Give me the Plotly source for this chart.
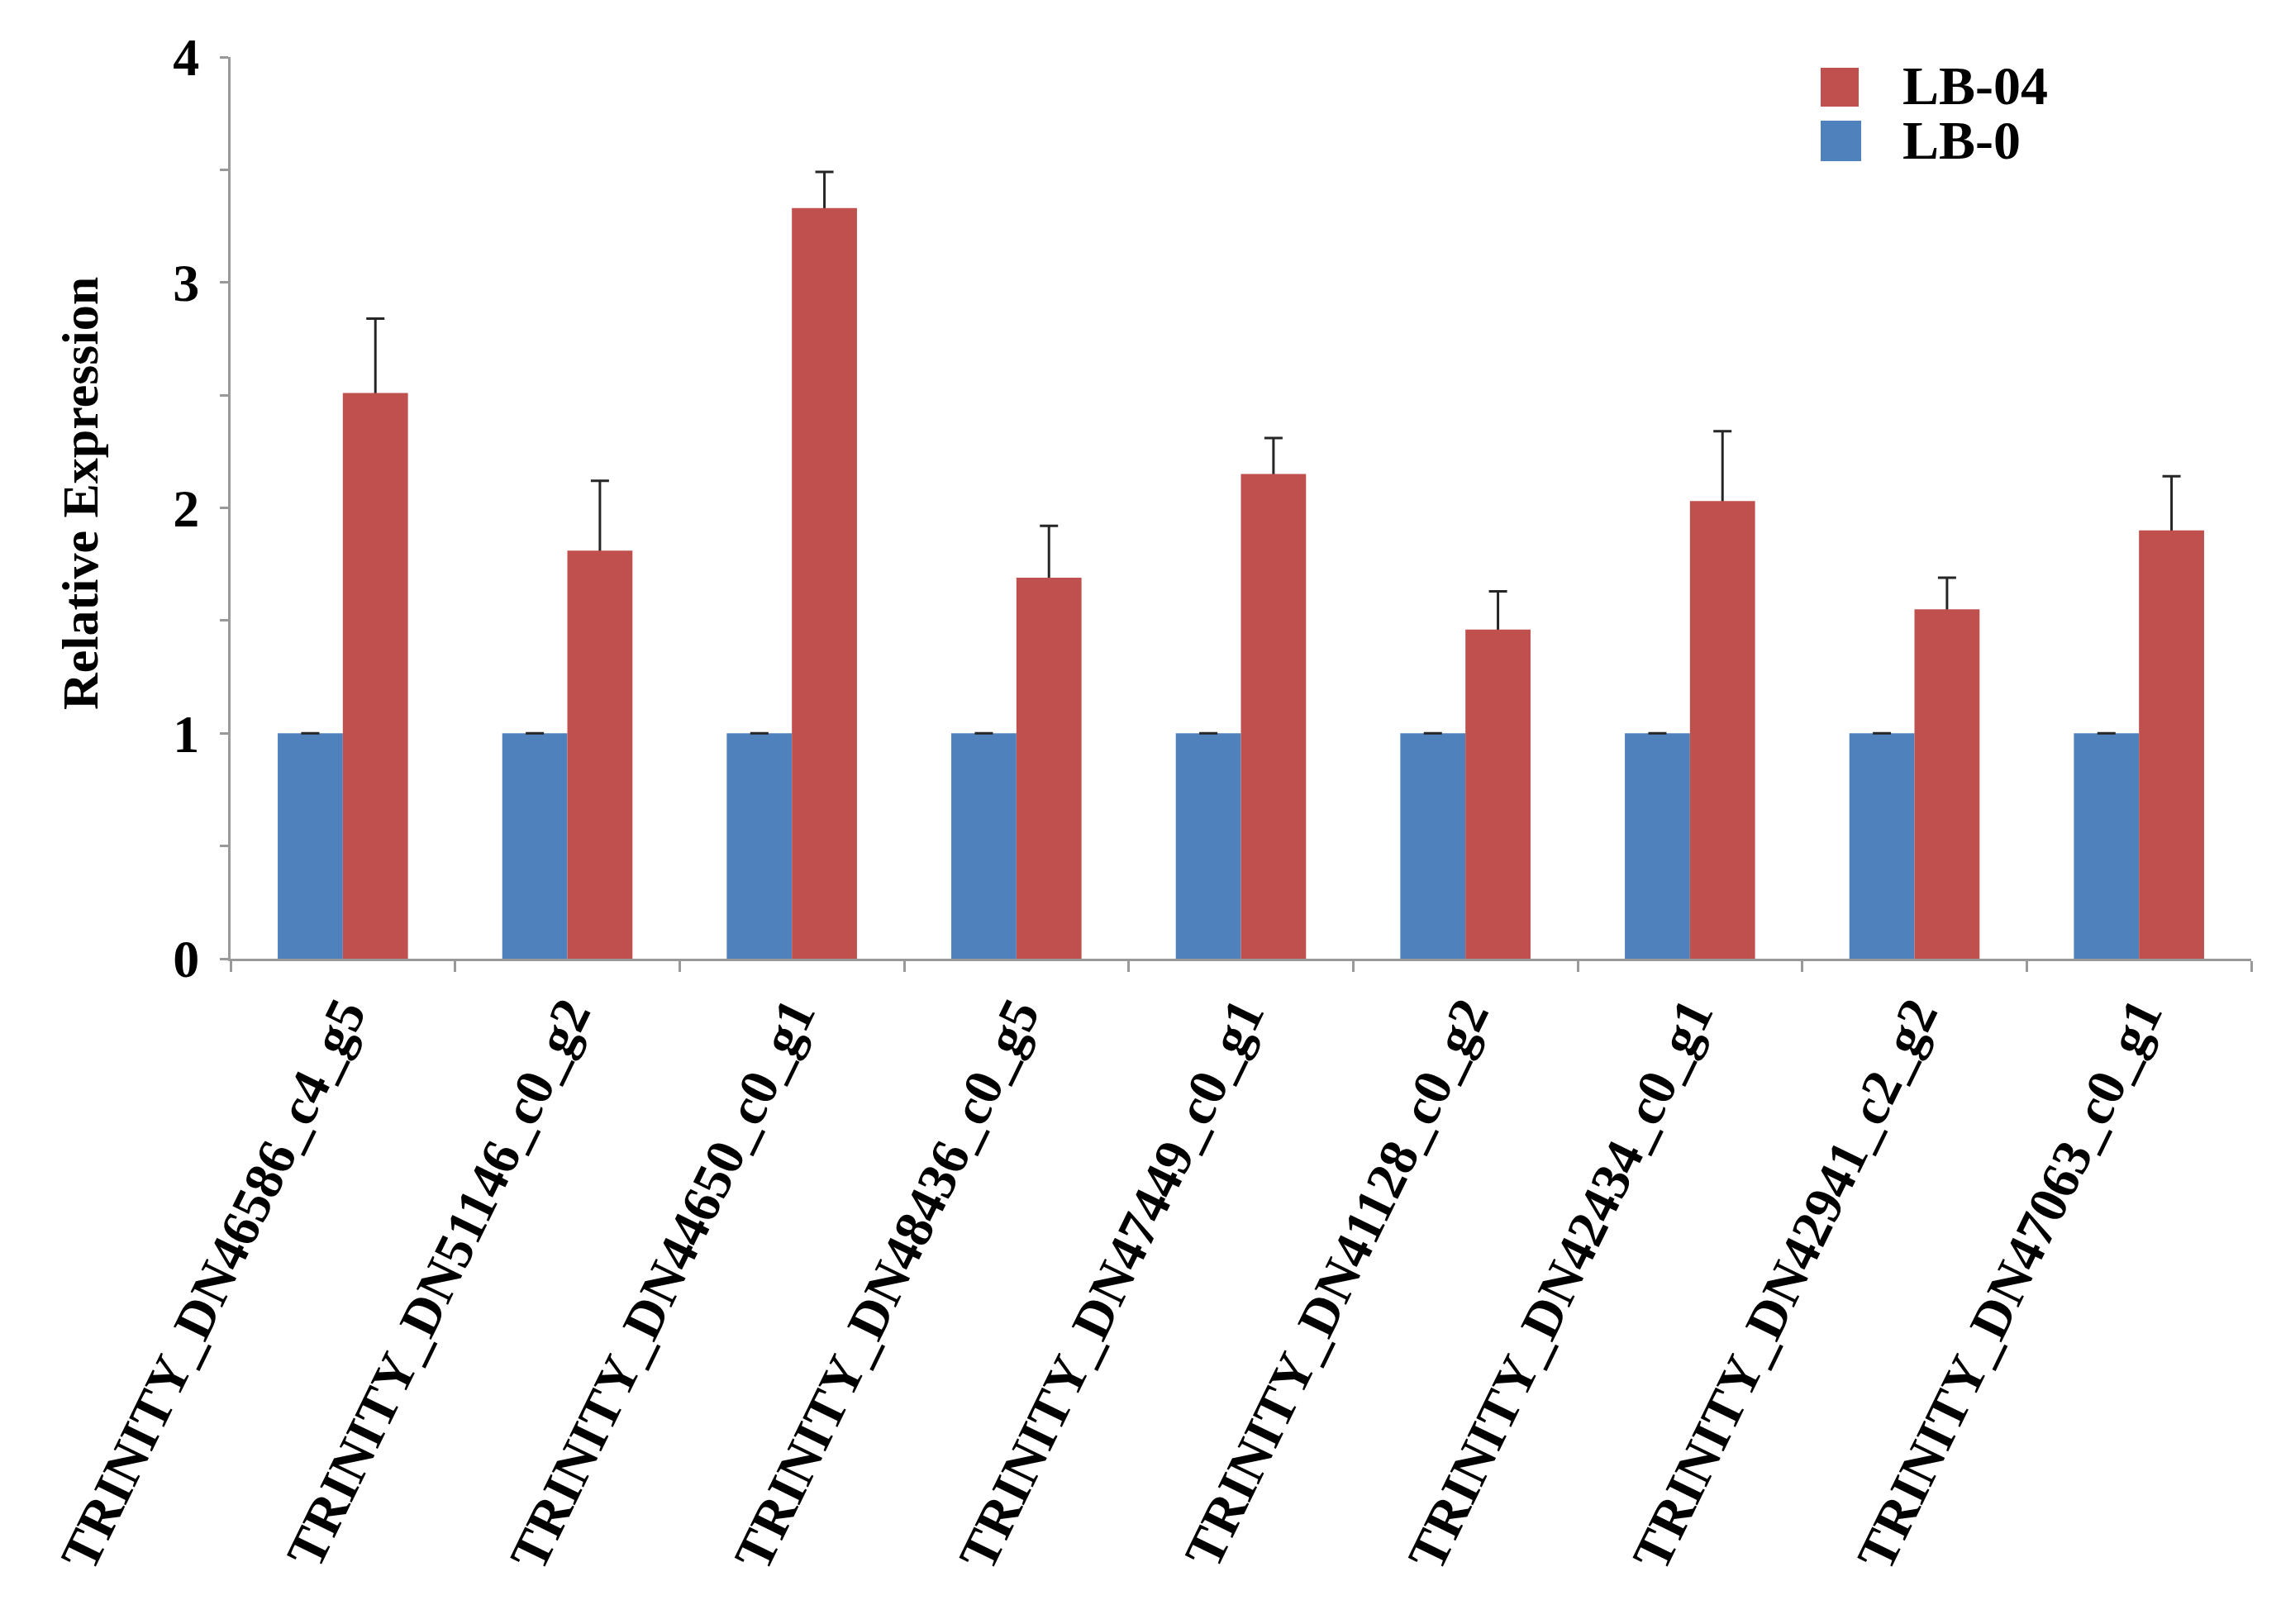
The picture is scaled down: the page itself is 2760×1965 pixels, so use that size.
import plotly.graph_objects as go

categories = ["TRINITY_DN46586_c4_g5", "TRINITY_DN51146_c0_g2", "TRINITY_DN44650_c0_g1",
              "TRINITY_DN48436_c0_g5", "TRINITY_DN47449_c0_g1", "TRINITY_DN41128_c0_g2",
              "TRINITY_DN42434_c0_g1", "TRINITY_DN42941_c2_g2", "TRINITY_DN47063_c0_g1"]
lb0 = [1, 1, 1, 1, 1, 1, 1, 1, 1]
lb0_err = [0, 0, 0, 0, 0, 0, 0, 0, 0]
lb04 = [2.51, 1.81, 3.33, 1.69, 2.15, 1.46, 2.03, 1.55, 1.90]
lb04_err = [0.33, 0.31, 0.16, 0.23, 0.16, 0.17, 0.31, 0.14, 0.24]

BLUE = "#4F81BD"
RED = "#C0504D"
ERRC = "#262626"
SERIF = "Liberation Serif"

fig = go.Figure()
fig.add_trace(go.Bar(
    x=categories, y=lb0, name="LB-0", offsetgroup="lb0",
    marker=dict(color=BLUE, line=dict(width=0)),
    error_y=dict(type="data", array=lb0_err, visible=True, color=ERRC,
                 thickness=3, width=11),
    showlegend=False))
# error bars of LB-04, drawn underneath the LB-04 bars so only the upper whisker shows
fig.add_trace(go.Bar(
    x=categories, y=lb04, name="LB-04 error", offsetgroup="lb04",
    marker=dict(color="rgba(0,0,0,0)", line=dict(width=0)),
    error_y=dict(type="data", array=lb04_err, arrayminus=lb04, symmetric=False,
                 visible=True, color=ERRC, thickness=3, width=11),
    showlegend=False, hoverinfo="skip"))
fig.add_trace(go.Bar(
    x=categories, y=lb04, name="LB-04", offsetgroup="lb04",
    marker=dict(color=RED, line=dict(width=0)),
    showlegend=False))

# the page body has an 8px default margin, so the figure is 8px smaller
OFF = 8
W, H = 2760 - OFF, 1965 - OFF
L, T = 279 - OFF, 69 - OFF
R = W - (2724 - OFF)
B = H - (1160 - OFF)
pw, ph = W - L - R, H - T - B

def px(x):  # screenshot x -> paper
    return (x - OFF - L) / pw

def py(y):  # screenshot y -> paper
    return (H - B - (y - OFF)) / ph

shapes = [
    dict(type="rect", xref="paper", yref="paper", x0=px(2203), x1=px(2249),
         y0=py(129), y1=py(82), fillcolor=RED, line=dict(width=0)),
    dict(type="rect", xref="paper", yref="paper", x0=px(2203), x1=px(2252),
         y0=py(195), y1=py(146), fillcolor=BLUE, line=dict(width=0)),
]
legend_font = dict(family=SERIF, size=66, color="black", weight="bold")
annotations = [
    dict(text="LB-04", xref="paper", yref="paper", x=px(2300), y=py(104),
         xanchor="left", yanchor="middle", showarrow=False, font=legend_font),
    dict(text="LB-0", xref="paper", yref="paper", x=px(2300), y=py(170),
         xanchor="left", yanchor="middle", showarrow=False, font=legend_font),
    dict(text="Relative Expression", xref="paper", yref="paper",
         x=px(97), y=py(597), xanchor="center", yanchor="middle",
         textangle=-90, showarrow=False,
         font=dict(family=SERIF, size=62, color="black", weight="bold")),
]

fig.update_layout(
    width=W, height=H,
    margin=dict(l=L, r=R, t=T, b=B, autoexpand=False),
    paper_bgcolor="white", plot_bgcolor="white",
    barmode="group", bargap=0.42, bargroupgap=0,
    shapes=shapes, annotations=annotations,
    showlegend=False,
)
fig.update_xaxes(
    automargin=False,
    showline=True, linecolor="#999999", linewidth=3,
    ticks="outside", tickson="boundaries", ticklen=13, tickwidth=3, tickcolor="#999999",
    tickangle=-64,
    tickfont=dict(family=SERIF, size=65, color="black", weight="bold"),
    showgrid=False, zeroline=False,
)
fig.update_yaxes(
    automargin=False,
    range=[0, 4], dtick=1, tick0=0,
    showline=True, linecolor="#999999", linewidth=3,
    ticks="outside", ticklen=10, tickwidth=3, tickcolor="#999999",
    minor=dict(dtick=0.5, ticks="outside", ticklen=10, tickwidth=3, tickcolor="#999999", showgrid=False),
    tickfont=dict(family=SERIF, size=64, color="black", weight="bold"),
    ticklabelstandoff=12,
    showgrid=False, zeroline=False,
)

fig.write_html("out.html")
